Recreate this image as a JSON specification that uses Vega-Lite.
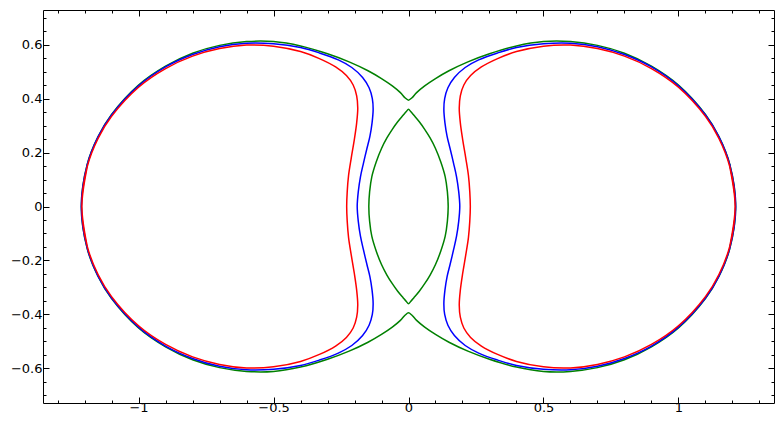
{
"$schema":"https://vega.github.io/schema/vega-lite/v6.json",
"width":731,"height":393,
"autosize":{"type":"none"},
"padding":{"left":43,"top":10,"right":9,"bottom":30},
"config":{"view":{"stroke":null},"font":"DejaVu Sans",
 "axis":{"grid":false,"domainColor":"#000000","tickColor":"#000000","labelColor":"#000000","labelFont":"DejaVu Sans","labelFontSize":13,"domainWidth":1,"tickWidth":1}},
"resolve":{"axis":{"x":"independent","y":"independent"}},
"layer":[
{"data":{"values":[
{"c":"c3","p":"O","i":-1,"x":1.19,"y":-0.157},
{"c":"c3","p":"O","i":0,"x":1.212,"y":0},{"c":"c3","p":"O","i":1,"x":1.19,"y":0.157},{"c":"c3","p":"O","i":2,"x":1.15,"y":0.259},{"c":"c3","p":"O","i":3,"x":1.10,"y":0.341},{"c":"c3","p":"O","i":4,"x":1.00,"y":0.45},{"c":"c3","p":"O","i":5,"x":0.90,"y":0.52},{"c":"c3","p":"O","i":6,"x":0.80,"y":0.568},{"c":"c3","p":"O","i":7,"x":0.70,"y":0.597},{"c":"c3","p":"O","i":8,"x":0.60,"y":0.611},{"c":"c3","p":"O","i":9,"x":0.50,"y":0.611},{"c":"c3","p":"O","i":10,"x":0.40,"y":0.595},{"c":"c3","p":"O","i":11,"x":0.30,"y":0.566},{"c":"c3","p":"O","i":12,"x":0.22,"y":0.536},{"c":"c3","p":"O","i":13,"x":0.15,"y":0.503},{"c":"c3","p":"O","i":14,"x":0.10,"y":0.474},{"c":"c3","p":"O","i":15,"x":0.06,"y":0.447},{"c":"c3","p":"O","i":16,"x":0.03,"y":0.422},{"c":"c3","p":"O","i":17,"x":0.012,"y":0.402},{"c":"c3","p":"O","i":18,"x":0,"y":0.394},
{"c":"c3","p":"O","i":19,"x":-0.012,"y":0.402},{"c":"c3","p":"O","i":20,"x":-0.03,"y":0.422},{"c":"c3","p":"O","i":21,"x":-0.06,"y":0.447},{"c":"c3","p":"O","i":22,"x":-0.10,"y":0.474},{"c":"c3","p":"O","i":23,"x":-0.15,"y":0.503},{"c":"c3","p":"O","i":24,"x":-0.22,"y":0.536},{"c":"c3","p":"O","i":25,"x":-0.30,"y":0.566},{"c":"c3","p":"O","i":26,"x":-0.40,"y":0.595},{"c":"c3","p":"O","i":27,"x":-0.50,"y":0.611},{"c":"c3","p":"O","i":28,"x":-0.60,"y":0.611},{"c":"c3","p":"O","i":29,"x":-0.70,"y":0.597},{"c":"c3","p":"O","i":30,"x":-0.80,"y":0.568},{"c":"c3","p":"O","i":31,"x":-0.90,"y":0.52},{"c":"c3","p":"O","i":32,"x":-1.00,"y":0.45},{"c":"c3","p":"O","i":33,"x":-1.10,"y":0.341},{"c":"c3","p":"O","i":34,"x":-1.15,"y":0.259},{"c":"c3","p":"O","i":35,"x":-1.19,"y":0.157},{"c":"c3","p":"O","i":36,"x":-1.212,"y":0},
{"c":"c3","p":"O","i":37,"x":-1.19,"y":-0.157},{"c":"c3","p":"O","i":38,"x":-1.15,"y":-0.259},{"c":"c3","p":"O","i":39,"x":-1.10,"y":-0.341},{"c":"c3","p":"O","i":40,"x":-1.00,"y":-0.45},{"c":"c3","p":"O","i":41,"x":-0.90,"y":-0.52},{"c":"c3","p":"O","i":42,"x":-0.80,"y":-0.568},{"c":"c3","p":"O","i":43,"x":-0.70,"y":-0.597},{"c":"c3","p":"O","i":44,"x":-0.60,"y":-0.611},{"c":"c3","p":"O","i":45,"x":-0.50,"y":-0.611},{"c":"c3","p":"O","i":46,"x":-0.40,"y":-0.595},{"c":"c3","p":"O","i":47,"x":-0.30,"y":-0.566},{"c":"c3","p":"O","i":48,"x":-0.22,"y":-0.536},{"c":"c3","p":"O","i":49,"x":-0.15,"y":-0.503},{"c":"c3","p":"O","i":50,"x":-0.10,"y":-0.474},{"c":"c3","p":"O","i":51,"x":-0.06,"y":-0.447},{"c":"c3","p":"O","i":52,"x":-0.03,"y":-0.422},{"c":"c3","p":"O","i":53,"x":-0.012,"y":-0.402},{"c":"c3","p":"O","i":54,"x":0,"y":-0.394},
{"c":"c3","p":"O","i":55,"x":0.012,"y":-0.402},{"c":"c3","p":"O","i":56,"x":0.03,"y":-0.422},{"c":"c3","p":"O","i":57,"x":0.06,"y":-0.447},{"c":"c3","p":"O","i":58,"x":0.10,"y":-0.474},{"c":"c3","p":"O","i":59,"x":0.15,"y":-0.503},{"c":"c3","p":"O","i":60,"x":0.22,"y":-0.536},{"c":"c3","p":"O","i":61,"x":0.30,"y":-0.566},{"c":"c3","p":"O","i":62,"x":0.40,"y":-0.595},{"c":"c3","p":"O","i":63,"x":0.50,"y":-0.611},{"c":"c3","p":"O","i":64,"x":0.60,"y":-0.611},{"c":"c3","p":"O","i":65,"x":0.70,"y":-0.597},{"c":"c3","p":"O","i":66,"x":0.80,"y":-0.568},{"c":"c3","p":"O","i":67,"x":0.90,"y":-0.52},{"c":"c3","p":"O","i":68,"x":1.00,"y":-0.45},{"c":"c3","p":"O","i":69,"x":1.10,"y":-0.341},{"c":"c3","p":"O","i":70,"x":1.15,"y":-0.259},{"c":"c3","p":"O","i":71,"x":1.19,"y":-0.157},{"c":"c3","p":"O","i":72,"x":1.212,"y":0},{"c":"c3","p":"O","i":73,"x":1.19,"y":0.157},
{"c":"c3","p":"I","i":-1,"x":0.144,"y":-0.055},
{"c":"c3","p":"I","i":0,"x":0.147,"y":0},{"c":"c3","p":"I","i":1,"x":0.144,"y":0.055},{"c":"c3","p":"I","i":2,"x":0.136,"y":0.11},{"c":"c3","p":"I","i":3,"x":0.12,"y":0.164},{"c":"c3","p":"I","i":4,"x":0.10,"y":0.215},{"c":"c3","p":"I","i":5,"x":0.08,"y":0.254},{"c":"c3","p":"I","i":6,"x":0.06,"y":0.286},{"c":"c3","p":"I","i":7,"x":0.04,"y":0.314},{"c":"c3","p":"I","i":8,"x":0.02,"y":0.338},{"c":"c3","p":"I","i":9,"x":0.008,"y":0.352},{"c":"c3","p":"I","i":10,"x":0,"y":0.36},
{"c":"c3","p":"I","i":11,"x":-0.008,"y":0.352},{"c":"c3","p":"I","i":12,"x":-0.02,"y":0.338},{"c":"c3","p":"I","i":13,"x":-0.04,"y":0.314},{"c":"c3","p":"I","i":14,"x":-0.06,"y":0.286},{"c":"c3","p":"I","i":15,"x":-0.08,"y":0.254},{"c":"c3","p":"I","i":16,"x":-0.10,"y":0.215},{"c":"c3","p":"I","i":17,"x":-0.12,"y":0.164},{"c":"c3","p":"I","i":18,"x":-0.136,"y":0.11},{"c":"c3","p":"I","i":19,"x":-0.144,"y":0.055},{"c":"c3","p":"I","i":20,"x":-0.147,"y":0},
{"c":"c3","p":"I","i":21,"x":-0.144,"y":-0.055},{"c":"c3","p":"I","i":22,"x":-0.136,"y":-0.11},{"c":"c3","p":"I","i":23,"x":-0.12,"y":-0.164},{"c":"c3","p":"I","i":24,"x":-0.10,"y":-0.215},{"c":"c3","p":"I","i":25,"x":-0.08,"y":-0.254},{"c":"c3","p":"I","i":26,"x":-0.06,"y":-0.286},{"c":"c3","p":"I","i":27,"x":-0.04,"y":-0.314},{"c":"c3","p":"I","i":28,"x":-0.02,"y":-0.338},{"c":"c3","p":"I","i":29,"x":-0.008,"y":-0.352},{"c":"c3","p":"I","i":30,"x":0,"y":-0.36},
{"c":"c3","p":"I","i":31,"x":0.008,"y":-0.352},{"c":"c3","p":"I","i":32,"x":0.02,"y":-0.338},{"c":"c3","p":"I","i":33,"x":0.04,"y":-0.314},{"c":"c3","p":"I","i":34,"x":0.06,"y":-0.286},{"c":"c3","p":"I","i":35,"x":0.08,"y":-0.254},{"c":"c3","p":"I","i":36,"x":0.10,"y":-0.215},{"c":"c3","p":"I","i":37,"x":0.12,"y":-0.164},{"c":"c3","p":"I","i":38,"x":0.136,"y":-0.11},{"c":"c3","p":"I","i":39,"x":0.144,"y":-0.055},{"c":"c3","p":"I","i":40,"x":0.147,"y":0},{"c":"c3","p":"I","i":41,"x":0.144,"y":0.055},
{"c":"c2","p":"R","i":-1,"x":1.19,"y":-0.155},
{"c":"c2","p":"R","i":0,"x":1.212,"y":0},{"c":"c2","p":"R","i":1,"x":1.19,"y":0.155},{"c":"c2","p":"R","i":2,"x":1.15,"y":0.258},{"c":"c2","p":"R","i":3,"x":1.10,"y":0.339},{"c":"c2","p":"R","i":4,"x":1.00,"y":0.447},{"c":"c2","p":"R","i":5,"x":0.90,"y":0.517},{"c":"c2","p":"R","i":6,"x":0.80,"y":0.563},{"c":"c2","p":"R","i":7,"x":0.70,"y":0.592},{"c":"c2","p":"R","i":8,"x":0.60,"y":0.605},{"c":"c2","p":"R","i":9,"x":0.50,"y":0.603},{"c":"c2","p":"R","i":10,"x":0.40,"y":0.589},{"c":"c2","p":"R","i":11,"x":0.33,"y":0.569},{"c":"c2","p":"R","i":12,"x":0.26,"y":0.543},{"c":"c2","p":"R","i":13,"x":0.21,"y":0.515},{"c":"c2","p":"R","i":14,"x":0.17,"y":0.478},{"c":"c2","p":"R","i":15,"x":0.146,"y":0.44},{"c":"c2","p":"R","i":16,"x":0.134,"y":0.40},{"c":"c2","p":"R","i":17,"x":0.131,"y":0.36},{"c":"c2","p":"R","i":18,"x":0.135,"y":0.31},{"c":"c2","p":"R","i":19,"x":0.143,"y":0.26},{"c":"c2","p":"R","i":20,"x":0.154,"y":0.215},{"c":"c2","p":"R","i":21,"x":0.167,"y":0.16},{"c":"c2","p":"R","i":22,"x":0.178,"y":0.11},{"c":"c2","p":"R","i":23,"x":0.186,"y":0.055},{"c":"c2","p":"R","i":24,"x":0.19,"y":0},
{"c":"c2","p":"R","i":25,"x":0.186,"y":-0.055},{"c":"c2","p":"R","i":26,"x":0.178,"y":-0.11},{"c":"c2","p":"R","i":27,"x":0.167,"y":-0.16},{"c":"c2","p":"R","i":28,"x":0.154,"y":-0.215},{"c":"c2","p":"R","i":29,"x":0.143,"y":-0.26},{"c":"c2","p":"R","i":30,"x":0.135,"y":-0.31},{"c":"c2","p":"R","i":31,"x":0.131,"y":-0.36},{"c":"c2","p":"R","i":32,"x":0.134,"y":-0.40},{"c":"c2","p":"R","i":33,"x":0.146,"y":-0.44},{"c":"c2","p":"R","i":34,"x":0.17,"y":-0.478},{"c":"c2","p":"R","i":35,"x":0.21,"y":-0.515},{"c":"c2","p":"R","i":36,"x":0.26,"y":-0.543},{"c":"c2","p":"R","i":37,"x":0.33,"y":-0.569},{"c":"c2","p":"R","i":38,"x":0.40,"y":-0.589},{"c":"c2","p":"R","i":39,"x":0.50,"y":-0.603},{"c":"c2","p":"R","i":40,"x":0.60,"y":-0.605},{"c":"c2","p":"R","i":41,"x":0.70,"y":-0.592},{"c":"c2","p":"R","i":42,"x":0.80,"y":-0.563},{"c":"c2","p":"R","i":43,"x":0.90,"y":-0.517},{"c":"c2","p":"R","i":44,"x":1.00,"y":-0.447},{"c":"c2","p":"R","i":45,"x":1.10,"y":-0.339},{"c":"c2","p":"R","i":46,"x":1.15,"y":-0.258},{"c":"c2","p":"R","i":47,"x":1.19,"y":-0.155},{"c":"c2","p":"R","i":48,"x":1.212,"y":0},{"c":"c2","p":"R","i":49,"x":1.19,"y":0.155},
{"c":"c2","p":"L","i":-1,"x":-1.19,"y":-0.155},
{"c":"c2","p":"L","i":0,"x":-1.212,"y":0},{"c":"c2","p":"L","i":1,"x":-1.19,"y":0.155},{"c":"c2","p":"L","i":2,"x":-1.15,"y":0.258},{"c":"c2","p":"L","i":3,"x":-1.10,"y":0.339},{"c":"c2","p":"L","i":4,"x":-1.00,"y":0.447},{"c":"c2","p":"L","i":5,"x":-0.90,"y":0.517},{"c":"c2","p":"L","i":6,"x":-0.80,"y":0.563},{"c":"c2","p":"L","i":7,"x":-0.70,"y":0.592},{"c":"c2","p":"L","i":8,"x":-0.60,"y":0.605},{"c":"c2","p":"L","i":9,"x":-0.50,"y":0.603},{"c":"c2","p":"L","i":10,"x":-0.40,"y":0.589},{"c":"c2","p":"L","i":11,"x":-0.33,"y":0.569},{"c":"c2","p":"L","i":12,"x":-0.26,"y":0.543},{"c":"c2","p":"L","i":13,"x":-0.21,"y":0.515},{"c":"c2","p":"L","i":14,"x":-0.17,"y":0.478},{"c":"c2","p":"L","i":15,"x":-0.146,"y":0.44},{"c":"c2","p":"L","i":16,"x":-0.134,"y":0.40},{"c":"c2","p":"L","i":17,"x":-0.131,"y":0.36},{"c":"c2","p":"L","i":18,"x":-0.135,"y":0.31},{"c":"c2","p":"L","i":19,"x":-0.143,"y":0.26},{"c":"c2","p":"L","i":20,"x":-0.154,"y":0.215},{"c":"c2","p":"L","i":21,"x":-0.167,"y":0.16},{"c":"c2","p":"L","i":22,"x":-0.178,"y":0.11},{"c":"c2","p":"L","i":23,"x":-0.186,"y":0.055},{"c":"c2","p":"L","i":24,"x":-0.19,"y":0},
{"c":"c2","p":"L","i":25,"x":-0.186,"y":-0.055},{"c":"c2","p":"L","i":26,"x":-0.178,"y":-0.11},{"c":"c2","p":"L","i":27,"x":-0.167,"y":-0.16},{"c":"c2","p":"L","i":28,"x":-0.154,"y":-0.215},{"c":"c2","p":"L","i":29,"x":-0.143,"y":-0.26},{"c":"c2","p":"L","i":30,"x":-0.135,"y":-0.31},{"c":"c2","p":"L","i":31,"x":-0.131,"y":-0.36},{"c":"c2","p":"L","i":32,"x":-0.134,"y":-0.40},{"c":"c2","p":"L","i":33,"x":-0.146,"y":-0.44},{"c":"c2","p":"L","i":34,"x":-0.17,"y":-0.478},{"c":"c2","p":"L","i":35,"x":-0.21,"y":-0.515},{"c":"c2","p":"L","i":36,"x":-0.26,"y":-0.543},{"c":"c2","p":"L","i":37,"x":-0.33,"y":-0.569},{"c":"c2","p":"L","i":38,"x":-0.40,"y":-0.589},{"c":"c2","p":"L","i":39,"x":-0.50,"y":-0.603},{"c":"c2","p":"L","i":40,"x":-0.60,"y":-0.605},{"c":"c2","p":"L","i":41,"x":-0.70,"y":-0.592},{"c":"c2","p":"L","i":42,"x":-0.80,"y":-0.563},{"c":"c2","p":"L","i":43,"x":-0.90,"y":-0.517},{"c":"c2","p":"L","i":44,"x":-1.00,"y":-0.447},{"c":"c2","p":"L","i":45,"x":-1.10,"y":-0.339},{"c":"c2","p":"L","i":46,"x":-1.15,"y":-0.258},{"c":"c2","p":"L","i":47,"x":-1.19,"y":-0.155},{"c":"c2","p":"L","i":48,"x":-1.212,"y":0},{"c":"c2","p":"L","i":49,"x":-1.19,"y":0.155},
{"c":"c1","p":"R","i":-1,"x":1.19,"y":-0.148},
{"c":"c1","p":"R","i":0,"x":1.21,"y":0},{"c":"c1","p":"R","i":1,"x":1.19,"y":0.148},{"c":"c1","p":"R","i":2,"x":1.15,"y":0.252},{"c":"c1","p":"R","i":3,"x":1.10,"y":0.334},{"c":"c1","p":"R","i":4,"x":1.00,"y":0.442},{"c":"c1","p":"R","i":5,"x":0.90,"y":0.511},{"c":"c1","p":"R","i":6,"x":0.80,"y":0.557},{"c":"c1","p":"R","i":7,"x":0.70,"y":0.585},{"c":"c1","p":"R","i":8,"x":0.60,"y":0.598},{"c":"c1","p":"R","i":9,"x":0.50,"y":0.594},{"c":"c1","p":"R","i":10,"x":0.40,"y":0.574},{"c":"c1","p":"R","i":11,"x":0.33,"y":0.548},{"c":"c1","p":"R","i":12,"x":0.27,"y":0.517},{"c":"c1","p":"R","i":13,"x":0.23,"y":0.485},{"c":"c1","p":"R","i":14,"x":0.205,"y":0.45},{"c":"c1","p":"R","i":15,"x":0.192,"y":0.41},{"c":"c1","p":"R","i":16,"x":0.188,"y":0.365},{"c":"c1","p":"R","i":17,"x":0.192,"y":0.31},{"c":"c1","p":"R","i":18,"x":0.201,"y":0.246},{"c":"c1","p":"R","i":19,"x":0.212,"y":0.18},{"c":"c1","p":"R","i":20,"x":0.222,"y":0.115},{"c":"c1","p":"R","i":21,"x":0.227,"y":0.055},{"c":"c1","p":"R","i":22,"x":0.229,"y":0},
{"c":"c1","p":"R","i":23,"x":0.227,"y":-0.055},{"c":"c1","p":"R","i":24,"x":0.222,"y":-0.115},{"c":"c1","p":"R","i":25,"x":0.212,"y":-0.18},{"c":"c1","p":"R","i":26,"x":0.201,"y":-0.246},{"c":"c1","p":"R","i":27,"x":0.192,"y":-0.31},{"c":"c1","p":"R","i":28,"x":0.188,"y":-0.365},{"c":"c1","p":"R","i":29,"x":0.192,"y":-0.41},{"c":"c1","p":"R","i":30,"x":0.205,"y":-0.45},{"c":"c1","p":"R","i":31,"x":0.23,"y":-0.485},{"c":"c1","p":"R","i":32,"x":0.27,"y":-0.517},{"c":"c1","p":"R","i":33,"x":0.33,"y":-0.548},{"c":"c1","p":"R","i":34,"x":0.40,"y":-0.574},{"c":"c1","p":"R","i":35,"x":0.50,"y":-0.594},{"c":"c1","p":"R","i":36,"x":0.60,"y":-0.598},{"c":"c1","p":"R","i":37,"x":0.70,"y":-0.585},{"c":"c1","p":"R","i":38,"x":0.80,"y":-0.557},{"c":"c1","p":"R","i":39,"x":0.90,"y":-0.511},{"c":"c1","p":"R","i":40,"x":1.00,"y":-0.442},{"c":"c1","p":"R","i":41,"x":1.10,"y":-0.334},{"c":"c1","p":"R","i":42,"x":1.15,"y":-0.252},{"c":"c1","p":"R","i":43,"x":1.19,"y":-0.148},{"c":"c1","p":"R","i":44,"x":1.21,"y":0},{"c":"c1","p":"R","i":45,"x":1.19,"y":0.148},
{"c":"c1","p":"L","i":-1,"x":-1.19,"y":-0.148},
{"c":"c1","p":"L","i":0,"x":-1.21,"y":0},{"c":"c1","p":"L","i":1,"x":-1.19,"y":0.148},{"c":"c1","p":"L","i":2,"x":-1.15,"y":0.252},{"c":"c1","p":"L","i":3,"x":-1.10,"y":0.334},{"c":"c1","p":"L","i":4,"x":-1.00,"y":0.442},{"c":"c1","p":"L","i":5,"x":-0.90,"y":0.511},{"c":"c1","p":"L","i":6,"x":-0.80,"y":0.557},{"c":"c1","p":"L","i":7,"x":-0.70,"y":0.585},{"c":"c1","p":"L","i":8,"x":-0.60,"y":0.598},{"c":"c1","p":"L","i":9,"x":-0.50,"y":0.594},{"c":"c1","p":"L","i":10,"x":-0.40,"y":0.574},{"c":"c1","p":"L","i":11,"x":-0.33,"y":0.548},{"c":"c1","p":"L","i":12,"x":-0.27,"y":0.517},{"c":"c1","p":"L","i":13,"x":-0.23,"y":0.485},{"c":"c1","p":"L","i":14,"x":-0.205,"y":0.45},{"c":"c1","p":"L","i":15,"x":-0.192,"y":0.41},{"c":"c1","p":"L","i":16,"x":-0.188,"y":0.365},{"c":"c1","p":"L","i":17,"x":-0.192,"y":0.31},{"c":"c1","p":"L","i":18,"x":-0.201,"y":0.246},{"c":"c1","p":"L","i":19,"x":-0.212,"y":0.18},{"c":"c1","p":"L","i":20,"x":-0.222,"y":0.115},{"c":"c1","p":"L","i":21,"x":-0.227,"y":0.055},{"c":"c1","p":"L","i":22,"x":-0.229,"y":0},
{"c":"c1","p":"L","i":23,"x":-0.227,"y":-0.055},{"c":"c1","p":"L","i":24,"x":-0.222,"y":-0.115},{"c":"c1","p":"L","i":25,"x":-0.212,"y":-0.18},{"c":"c1","p":"L","i":26,"x":-0.201,"y":-0.246},{"c":"c1","p":"L","i":27,"x":-0.192,"y":-0.31},{"c":"c1","p":"L","i":28,"x":-0.188,"y":-0.365},{"c":"c1","p":"L","i":29,"x":-0.192,"y":-0.41},{"c":"c1","p":"L","i":30,"x":-0.205,"y":-0.45},{"c":"c1","p":"L","i":31,"x":-0.23,"y":-0.485},{"c":"c1","p":"L","i":32,"x":-0.27,"y":-0.517},{"c":"c1","p":"L","i":33,"x":-0.33,"y":-0.548},{"c":"c1","p":"L","i":34,"x":-0.40,"y":-0.574},{"c":"c1","p":"L","i":35,"x":-0.50,"y":-0.594},{"c":"c1","p":"L","i":36,"x":-0.60,"y":-0.598},{"c":"c1","p":"L","i":37,"x":-0.70,"y":-0.585},{"c":"c1","p":"L","i":38,"x":-0.80,"y":-0.557},{"c":"c1","p":"L","i":39,"x":-0.90,"y":-0.511},{"c":"c1","p":"L","i":40,"x":-1.00,"y":-0.442},{"c":"c1","p":"L","i":41,"x":-1.10,"y":-0.334},{"c":"c1","p":"L","i":42,"x":-1.15,"y":-0.252},{"c":"c1","p":"L","i":43,"x":-1.19,"y":-0.148},{"c":"c1","p":"L","i":44,"x":-1.21,"y":0},{"c":"c1","p":"L","i":45,"x":-1.19,"y":0.148}
]},
"mark":{"type":"line","strokeWidth":1.5,"interpolate":"catmull-rom"},
"encoding":{
"x":{"field":"x","type":"quantitative","title":null,"scale":{"domain":[-1.354,1.354],"nice":false,"zero":false},
 "axis":{"orient":"bottom","values":[-1,-0.5,0,0.5,1],"tickSize":-6,"labelPadding":4,"format":"~g","labelFont":"DejaVu Sans","labelFontSize":13,"labelFlush":false,"labelOverlap":false}},
"y":{"field":"y","type":"quantitative","title":null,"scale":{"domain":[-0.728,0.728],"nice":false,"zero":false},
 "axis":{"orient":"left","values":[-0.6,-0.4,-0.2,0,0.2,0.4,0.6],"tickSize":-6,"labelPadding":7,"format":"~g","labelFont":"DejaVu Sans","labelFontSize":13,"labelFlush":false,"labelOverlap":false}},
"color":{"field":"c","type":"nominal","legend":null,"scale":{"domain":["c1","c2","c3"],"range":["#ff0000","#0000ff","#008000"]}},
"detail":{"field":"p"},
"order":{"field":"i","type":"quantitative"}
}},
{"data":{"values":[{"x":0,"y":0}]},"mark":{"type":"point","opacity":0},
"encoding":{
"x":{"field":"x","type":"quantitative","title":null,"scale":{"domain":[-1.354,1.354],"nice":false,"zero":false},"axis":{"orient":"top","values":[-1,-0.5,0,0.5,1],"tickSize":-6,"labels":false}},
"y":{"field":"y","type":"quantitative","title":null,"scale":{"domain":[-0.728,0.728],"nice":false,"zero":false},"axis":{"orient":"right","values":[-0.6,-0.4,-0.2,0,0.2,0.4,0.6],"tickSize":-6,"labels":false}}
}},
{"data":{"values":[{"x":0,"y":0}]},"mark":{"type":"point","opacity":0},
"encoding":{
"x":{"field":"x","type":"quantitative","title":null,"scale":{"domain":[-1.354,1.354],"nice":false,"zero":false},"axis":{"orient":"bottom","domain":false,"values":[-1.3,-1.2,-1.1,-0.9,-0.8,-0.7,-0.6,-0.4,-0.3,-0.2,-0.1,0.1,0.2,0.3,0.4,0.6,0.7,0.8,0.9,1.1,1.2,1.3],"tickSize":-3,"labels":false}},
"y":{"field":"y","type":"quantitative","title":null,"scale":{"domain":[-0.728,0.728],"nice":false,"zero":false},"axis":{"orient":"left","domain":false,"values":[-0.7,-0.65,-0.55,-0.5,-0.45,-0.35,-0.3,-0.25,-0.15,-0.1,-0.05,0.05,0.1,0.15,0.25,0.3,0.35,0.45,0.5,0.55,0.65,0.7],"tickSize":-3,"labels":false}}
}},
{"data":{"values":[{"x":0,"y":0}]},"mark":{"type":"point","opacity":0},
"encoding":{
"x":{"field":"x","type":"quantitative","title":null,"scale":{"domain":[-1.354,1.354],"nice":false,"zero":false},"axis":{"orient":"top","domain":false,"values":[-1.3,-1.2,-1.1,-0.9,-0.8,-0.7,-0.6,-0.4,-0.3,-0.2,-0.1,0.1,0.2,0.3,0.4,0.6,0.7,0.8,0.9,1.1,1.2,1.3],"tickSize":-3,"labels":false}},
"y":{"field":"y","type":"quantitative","title":null,"scale":{"domain":[-0.728,0.728],"nice":false,"zero":false},"axis":{"orient":"right","domain":false,"values":[-0.7,-0.65,-0.55,-0.5,-0.45,-0.35,-0.3,-0.25,-0.15,-0.1,-0.05,0.05,0.1,0.15,0.25,0.3,0.35,0.45,0.5,0.55,0.65,0.7],"tickSize":-3,"labels":false}}
}}
]
}
